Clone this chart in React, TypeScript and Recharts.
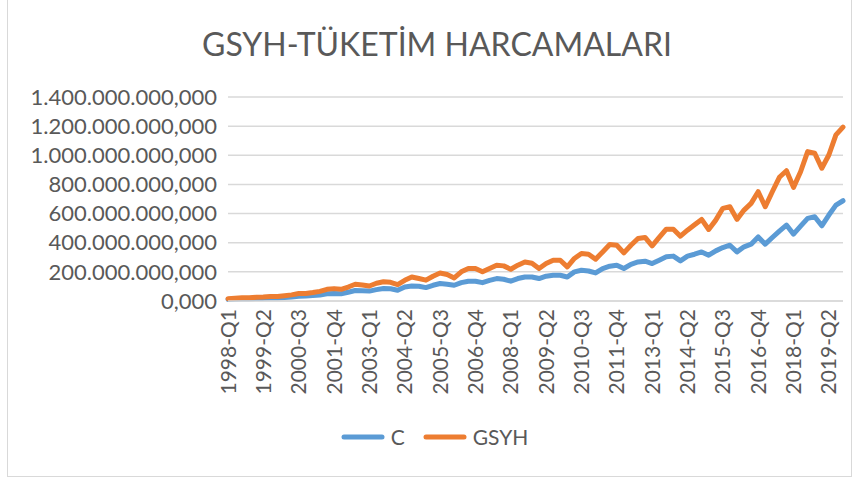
import React from 'react';
import { LineChart, Line, XAxis, YAxis, CartesianGrid, Legend } from 'recharts';

// Quarter labels 1998-Q1 .. 2019-Q4
const years: number[] = [1998, 1999, 2000, 2001, 2002, 2003, 2004, 2005, 2006, 2007, 2008, 2009, 2010, 2011, 2012, 2013, 2014, 2015, 2016, 2017, 2018, 2019];
const quarterNames: string[] = ['Q1', 'Q2', 'Q3', 'Q4'];
const categories: string[] = years.flatMap((y) => quarterNames.map((q) => `${y}-${q}`));

// Values in millions of display units (x 1.000.000)
const gsyhValues: number[] = [
  16, 19, 23, 22,
  25, 27, 31, 31,
  36, 42, 51, 52,
  58, 66, 80, 85,
  80, 96, 115, 110,
  103, 122, 132, 128,
  113, 142, 165, 154,
  143, 170, 192, 182,
  158, 200, 223, 223,
  200, 223, 246, 241,
  218, 246, 268, 259,
  223, 257, 280, 280,
  234, 292, 326, 321,
  287, 337, 388, 383,
  330, 383, 429, 436,
  378, 436, 493, 493,
  445, 486, 523, 560,
  491, 555, 636, 647,
  560, 624, 670, 750,
  647, 750, 849, 894,
  780, 887, 1025, 1014,
  911, 1002, 1140, 1193,
];

const cValues: number[] = [
  11, 13, 15, 15,
  17, 18, 21, 21,
  24, 28, 33, 34,
  37, 41, 49, 52,
  50, 60, 72, 70,
  68, 78, 86, 84,
  74, 96, 103, 101,
  92, 108, 120, 115,
  108, 126, 136, 136,
  126, 142, 154, 149,
  136, 154, 165, 165,
  154, 170, 177, 177,
  165, 200, 211, 206,
  193, 223, 239, 246,
  223, 252, 268, 273,
  257, 280, 303, 308,
  275, 308, 321, 337,
  314, 344, 367, 383,
  337, 372, 390, 440,
  390, 436, 480, 521,
  459, 514, 567, 578,
  516, 590, 658, 688,
];

const yTicks: number[] = [0, 200, 400, 600, 800, 1000, 1200, 1400].map((v) => v * 1e6);

const data = categories.map((name, i) => ({
  name,
  C: cValues[i] * 1e6,
  GSYH: gsyhValues[i] * 1e6,
}));

const FONT = 'Lato, "Open Sans", sans-serif';
const TEXT = '#595959';
const BLUE = '#5b9bd5';
const ORANGE = '#ed7d31';
const GRID = '#d9d9d9';

function formatTR(v: number): string {
  const intPart = Math.round(v).toString();
  const grouped = intPart.replace(/\B(?=(\d{3})+(?!\d))/g, '.');
  return `${grouped},000`;
}

const YTick = (props: any) => {
  const { x, y, payload } = props;
  return (
    <text x={x} y={y} dy="0.35em" textAnchor="end" fill={TEXT} fontFamily={FONT} fontSize={22}>
      {formatTR(payload.value)}
    </text>
  );
};

const XTick = (props: any) => {
  const { x, y, payload } = props;
  return (
    <text
      x={x}
      y={y}
      dy="0.36em"
      textAnchor="end"
      transform={`rotate(-90 ${x} ${y})`}
      fill={TEXT}
      fontFamily={FONT}
      fontSize={21}
    >
      {payload.value}
    </text>
  );
};

const LegendContent = () => {
  const items = [
    { label: 'C', color: BLUE },
    { label: 'GSYH', color: ORANGE },
  ];
  return (
    <div style={{ display: 'flex', justifyContent: 'center', alignItems: 'center', height: 30 }}>
      {items.map((it, idx) => (
        <div key={it.label} style={{ display: 'flex', alignItems: 'center', marginLeft: idx === 0 ? 0 : 18 }}>
          <svg width={44} height={10} style={{ display: 'block' }}>
            <line x1={3} y1={5} x2={41} y2={5} stroke={it.color} strokeWidth={5} strokeLinecap="round" />
          </svg>
          <span style={{ marginLeft: 6, fontFamily: FONT, fontSize: 21, color: TEXT, lineHeight: '30px' }}>{it.label}</span>
        </div>
      ))}
    </div>
  );
};

export default function App() {
  return (
    <div style={{ position: 'relative', width: 861, height: 481, background: '#ffffff', overflow: 'hidden' }}>
      <style>{`body{margin:0;}`}</style>
      <div
        style={{
          position: 'absolute',
          left: 7,
          top: -1,
          width: 845,
          height: 478,
          border: `1px solid ${GRID}`,
          boxSizing: 'border-box',
        }}
      />
      <div
        style={{
          position: 'absolute',
          left: 0,
          top: 24,
          width: 874,
          textAlign: 'center',
          fontFamily: FONT,
          fontSize: 32,
          color: TEXT,
          lineHeight: '40px',
          whiteSpace: 'nowrap',
        }}
      >
        GSYH-TÜKETİM HARCAMALARI
      </div>
      <LineChart
        width={861}
        height={481}
        data={data}
        margin={{ top: 97, right: 18, left: 0, bottom: 29 }}
      >
        <CartesianGrid stroke={GRID} strokeWidth={1.5} vertical={false} />
        <XAxis
          dataKey="name"
          interval={4}
          height={121}
          tickSize={0}
          tickMargin={8}
          axisLine={{ stroke: GRID, strokeWidth: 1.5 }}
          tickLine={false}
          tick={<XTick />}
        />
        <YAxis
          width={228}
          domain={[0, 1400e6]}
          ticks={yTicks}
          tickSize={0}
          tickMargin={11}
          axisLine={false}
          tickLine={false}
          tick={<YTick />}
          interval={0}
        />
        <Legend
          verticalAlign="bottom"
          content={<LegendContent />}
          wrapperStyle={{ left: 0, width: 861, paddingLeft: 4, height: 30 }}
        />
        <Line
          type="linear"
          dataKey="C"
          stroke={BLUE}
          strokeWidth={5}
          dot={false}
          strokeLinejoin="round"
          strokeLinecap="round"
          isAnimationActive={false}
        />
        <Line
          type="linear"
          dataKey="GSYH"
          stroke={ORANGE}
          strokeWidth={5}
          dot={false}
          strokeLinejoin="round"
          strokeLinecap="round"
          isAnimationActive={false}
        />
      </LineChart>
    </div>
  );
}
